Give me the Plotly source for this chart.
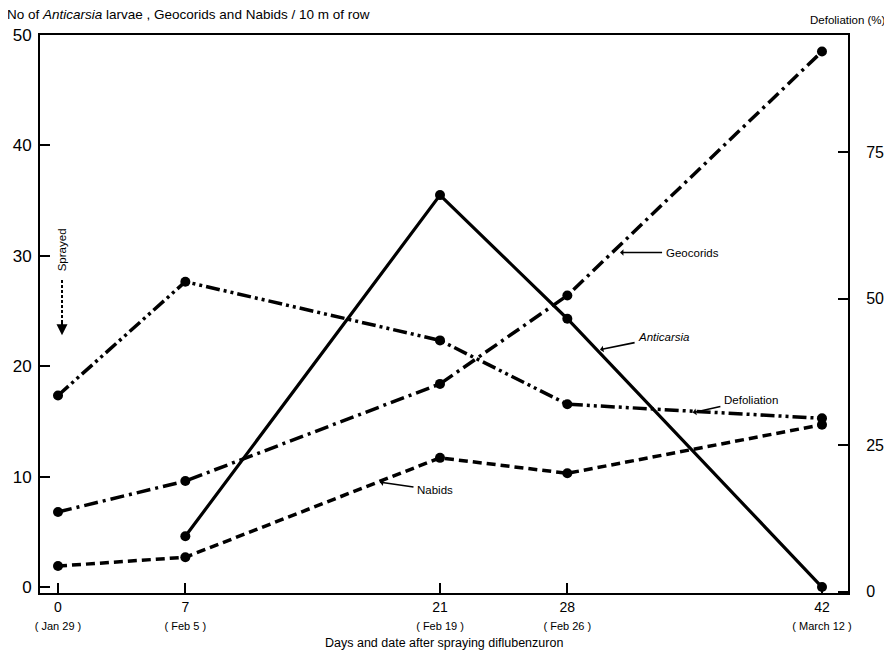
import plotly.graph_objects as go

# ---- data ----
days = [0, 7, 21, 28, 42]
tick_nums = ["0", "7", "21", "28", "42"]
tick_dates = ["( Jan 29 )", "( Feb 5 )", "( Feb 19 )", "( Feb 26 )", "( March 12 )"]

anticarsia_days = [7, 21, 28, 42]
anticarsia = [4.6, 35.5, 24.3, 0.0]
geocorids = [6.8, 9.6, 18.4, 26.4, 48.5]
nabids = [1.9, 2.7, 11.7, 10.3, 14.7]
defoliation = [33.5, 52.9, 42.9, 32.0, 29.6]

left_ticks = [0, 10, 20, 30, 40, 50]
right_ticks = [0, 25, 50, 75]

FONT = "Liberation Sans"
BLACK = "black"
RIGHT_RANGE = [-0.2, 95]

fig = go.Figure()

fig.add_trace(go.Scatter(x=anticarsia_days, y=anticarsia, mode="lines+markers",
                         line=dict(color=BLACK, width=3.2),
                         marker=dict(color=BLACK, size=10), name="Anticarsia"))
fig.add_trace(go.Scatter(x=days, y=geocorids, mode="lines+markers",
                         line=dict(color=BLACK, width=3.5, dash="14px,5px,3px,5px"),
                         marker=dict(color=BLACK, size=10), name="Geocorids"))
fig.add_trace(go.Scatter(x=days, y=nabids, mode="lines+markers",
                         line=dict(color=BLACK, width=3.5, dash="9px,5px"),
                         marker=dict(color=BLACK, size=10), name="Nabids"))
# invisible copy so the right-hand label axis is rendered
fig.add_trace(go.Scatter(x=days, y=defoliation, mode="lines", yaxis="y2", opacity=0,
                         hoverinfo="skip", line=dict(color=BLACK, width=1), name=""))
fig.add_trace(go.Scatter(x=days, y=defoliation, mode="lines+markers", yaxis="y3",
                         line=dict(color=BLACK, width=3.5, dash="14px,4px,3px,4px,3px,4px"),
                         marker=dict(color=BLACK, size=10), name="Defoliation"))

ticktext = [f"{n}<br><span style='font-size:11px'>{d}</span>" for n, d in zip(tick_nums, tick_dates)]

fig.update_layout(
    width=892, height=656,
    margin=dict(l=32, r=52, t=27, b=71, autoexpand=False),
    paper_bgcolor="white", plot_bgcolor="white",
    showlegend=False,
    font=dict(family=FONT, color=BLACK, size=12),
    xaxis=dict(range=[-0.99, 43.43], tickvals=days, ticktext=ticktext,
               ticks="inside", ticklen=10, tickwidth=1.5, tickcolor=BLACK,
               showline=True, linewidth=2, linecolor=BLACK, mirror=True,
               showgrid=False, zeroline=False, tickfont=dict(size=14)),
    yaxis=dict(range=[-0.54, 50], tickvals=left_ticks,
               ticks="inside", ticklen=10, tickwidth=1.5, tickcolor=BLACK,
               showline=True, linewidth=2, linecolor=BLACK, ticklabelstandoff=3,
               showgrid=False, zeroline=False, tickfont=dict(size=17)),
    # right axis: labels (pushed out by invisible outside ticks)
    yaxis2=dict(range=RIGHT_RANGE, tickvals=right_ticks, overlaying="y", side="right",
                ticks="outside", ticklen=14, tickcolor="rgba(0,0,0,0)",
                showline=False, showgrid=False, zeroline=False, tickfont=dict(size=16)),
    # right axis: line and inside ticks
    yaxis3=dict(range=RIGHT_RANGE, tickvals=right_ticks, overlaying="y", side="right",
                ticks="inside", ticklen=10, tickwidth=1.5, tickcolor=BLACK,
                showticklabels=False, showline=True, linewidth=2, linecolor=BLACK,
                showgrid=False, zeroline=False),
)

ann = []
ann.append(dict(xref="paper", yref="paper", x=-0.043, y=1.0376, xanchor="left", yanchor="middle",
                text="No of <i>Anticarsia</i> larvae , Geocorids and Nabids / 10 m of row",
                showarrow=False, font=dict(size=13.5)))
ann.append(dict(xref="paper", yref="paper", x=1.049, y=1.027, xanchor="right", yanchor="middle",
                text="Defoliation (%)", showarrow=False, font=dict(size=11.5)))
ann.append(dict(xref="paper", yref="paper", x=0.5, y=-0.09, xanchor="center", yanchor="middle",
                text="Days and date after spraying diflubenzuron", showarrow=False, font=dict(size=12.5)))

# series labels with leader lines
def label(text, x, y, ax, ay):
    return dict(x=x, y=y, xref="x", yref="y", text=text, showarrow=True,
                ax=ax, ay=ay, arrowhead=1, arrowsize=0.7, arrowwidth=1.6,
                arrowcolor=BLACK, font=dict(size=11.5), standoff=0, startstandoff=2)

ann.append(label("Geocorids", 30.9, 30.3, 72, 0))
ann.append(label("<i>Anticarsia</i>", 29.8, 21.5, 64, -13))
ann.append(label("Defoliation", 34.9, 15.8, 58, -13))
ann.append(label("Nabids", 17.7, 9.5, 55, 8))

# Sprayed marker
ann.append(dict(x=0.22, y=30.5, xref="x", yref="y", text="Sprayed", textangle=-90,
                showarrow=False, font=dict(size=11.5)))
ann.append(dict(x=0.22, y=22.8, xref="x", yref="y", text="", showarrow=True,
                ax=0, ay=-14, arrowhead=2, arrowsize=1.1, arrowwidth=2, arrowcolor=BLACK))
fig.update_layout(annotations=ann)
fig.add_shape(type="line", xref="x", yref="y", x0=0.22, x1=0.22, y0=27.8, y1=23.7,
              line=dict(color=BLACK, width=2, dash="3px,2px"))

fig.write_html("out.html")
